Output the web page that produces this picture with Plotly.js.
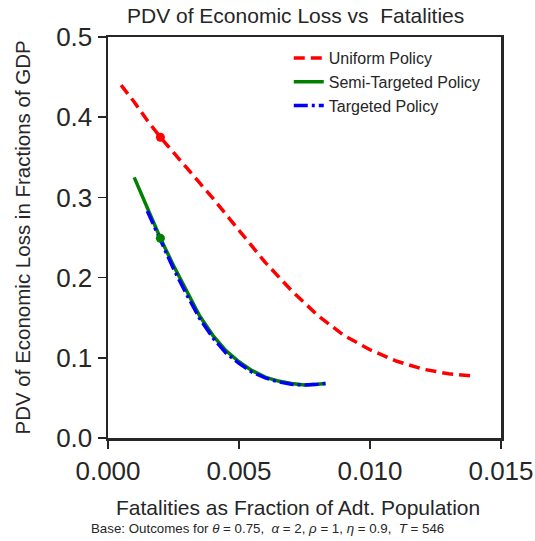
<!DOCTYPE html>
<html>
<head>
<meta charset="utf-8">
<script src="https://cdn.plot.ly/plotly-3.0.1.min.js"></script>
<style>html,body{margin:0;padding:0;background:#fff;}#chart{width:535px;height:541px;}</style>
</head>
<body>
<div id="chart"></div>
<script>
// Uniform Policy
const uniformX = [0.0005, 0.001, 0.0015, 0.002, 0.003, 0.004, 0.005, 0.006, 0.007, 0.008, 0.009, 0.010, 0.011, 0.012, 0.013, 0.014];
const uniformY = [0.440, 0.419, 0.396, 0.375, 0.337, 0.299, 0.259, 0.219, 0.184, 0.153, 0.128, 0.110, 0.096, 0.086, 0.080, 0.077];
// Semi-Targeted Policy
const semiX = [0.001, 0.0015, 0.002, 0.0025, 0.003, 0.0035, 0.004, 0.0045, 0.005, 0.0055, 0.006, 0.0065, 0.007, 0.0075, 0.008, 0.0083];
const semiY = [0.325, 0.287, 0.249, 0.215, 0.183, 0.152, 0.128, 0.109, 0.095, 0.084, 0.076, 0.071, 0.068, 0.066, 0.067, 0.068];
// Targeted Policy
const targX = [0.0015, 0.002, 0.0025, 0.003, 0.0035, 0.004, 0.0045, 0.005, 0.0055, 0.006, 0.0065, 0.007, 0.0075, 0.008, 0.0083];
const targY = [0.283, 0.247, 0.211, 0.179, 0.149, 0.125, 0.106, 0.093, 0.082, 0.075, 0.070, 0.067, 0.066, 0.067, 0.068];
// Marked base points
const uniformBaseX = [0.002], uniformBaseY = [0.375];
const semiBaseX = [0.002], semiBaseY = [0.249];
// Tick labels
const xTickVals = [0, 0.005, 0.010, 0.015], xTickText = ['0.000', '0.005', '0.010', '0.015'];
const yTickVals = [0, 0.1, 0.2, 0.3, 0.4, 0.5], yTickText = ['0.0', '0.1', '0.2', '0.3', '0.4', '0.5'];

const txt = '#262626';
const font = 'Liberation Sans, Arial, sans-serif';

const traces = [
  {x: uniformX, y: uniformY, mode: 'lines', name: 'Uniform Policy',
   line: {color: '#ff0000', width: 3.5, dash: '11px,6px'}},
  {x: semiX, y: semiY, mode: 'lines', name: 'Semi-Targeted Policy',
   line: {color: '#008000', width: 3.5}},
  {x: targX, y: targY, mode: 'lines', name: 'Targeted Policy',
   line: {color: '#0000ff', width: 3.5, dash: '14px,4px,3px,4px'}},
  {x: uniformBaseX, y: uniformBaseY, mode: 'markers', showlegend: false,
   marker: {color: '#ff0000', size: 9}},
  {x: semiBaseX, y: semiBaseY, mode: 'markers', showlegend: false,
   marker: {color: '#008000', size: 9}}
];

const axisCommon = {
  showline: true, mirror: true, linecolor: txt, linewidth: 2.5,
  ticks: 'outside', ticklen: 8, tickwidth: 1.5, tickcolor: txt,
  showgrid: false, zeroline: false,
  tickfont: {family: font, size: 26, color: txt}
};

const layout = {
  width: 535, height: 541,
  margin: {l: 108, r: 34, t: 37, b: 103},
  paper_bgcolor: '#fff', plot_bgcolor: '#fff',
  font: {family: font, color: txt},
  xaxis: Object.assign({}, axisCommon, {range: [0, 0.015], tickvals: xTickVals, ticktext: xTickText}),
  yaxis: Object.assign({}, axisCommon, {range: [0, 0.5], tickvals: yTickVals, ticktext: yTickText}),
  legend: {x: 0.46, xanchor: 'left', y: 0.99, yanchor: 'top', bgcolor: 'rgba(0,0,0,0)',
           font: {family: font, size: 16, color: txt}},
  annotations: [
    {text: 'PDV of Economic Loss vs  Fatalities', xref: 'paper', yref: 'paper',
     x: (295 - 108) / 393, xanchor: 'center', y: (438 - 15) / 401, yanchor: 'middle',
     showarrow: false, font: {family: font, size: 21, color: txt}},
    {text: 'Fatalities as Fraction of Adt. Population', xref: 'paper', yref: 'paper',
     x: (297.5 - 108) / 393, xanchor: 'center', y: (438 - 507) / 401, yanchor: 'middle',
     showarrow: false, font: {family: font, size: 21, color: txt}},
    {text: 'PDV of Economic Loss in Fractions of GDP', xref: 'paper', yref: 'paper', textangle: -90,
     x: (22 - 108) / 393, xanchor: 'center', y: 0.5, yanchor: 'middle',
     showarrow: false, font: {family: font, size: 20.5, color: txt}},
    {text: 'Base: Outcomes for <i>θ</i> = 0.75,  <i>α</i> = 2, <i>ρ</i> = 1, <i>η</i> = 0.9,  <i>T</i> = 546',
     xref: 'paper', yref: 'paper', x: (267.5 - 108) / 393, xanchor: 'center', y: (438 - 528) / 401, yanchor: 'middle',
     showarrow: false, font: {family: font, size: 13.3, color: txt}}
  ]
};

Plotly.newPlot('chart', traces, layout, {displayModeBar: false, staticPlot: true});
</script>
</body>
</html>
